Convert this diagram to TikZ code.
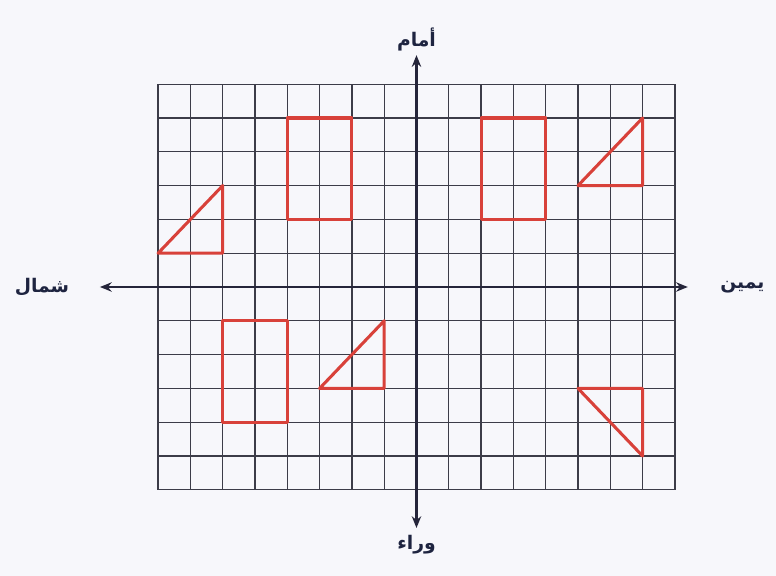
\documentclass[tikz,border=0pt]{standalone}
\usepackage{fontspec}
\newfontfamily\arabicfont[Script=Arabic]{DejaVu Sans}
\TeXXeTstate=1
\usepackage{tikz}
\usetikzlibrary{positioning,arrows.meta}
\definecolor{cpaper}{HTML}{F7F7FB}
\definecolor{cgrid}{HTML}{3C3C48}
\definecolor{caxis}{HTML}{25253A}
\definecolor{cfig}{HTML}{D8413A}
\definecolor{clabel}{HTML}{1E2440}

\begin{document}
\begin{tikzpicture}[>={Stealth[length=10pt,width=8pt]}, x=0.969cm, y=1.014cm,
  fig/.style={cfig, line width=2.6pt, line join=round},
  dirlabel/.style={clabel, font=\arabicfont\bfseries\fontsize{16}{18}\selectfont}]
  \useasboundingbox[fill=cpaper] (-12.495cm,-8.67cm) rectangle (10.785cm,8.61cm);
  \draw[cgrid, line width=1.1pt, step=1] (-8,-6) grid (8,6);
  % axes
  \coordinate (front) at (0,6.86);
  \coordinate (back) at (0,-7.13);
  \coordinate (left) at (-9.8,0);
  \coordinate (right) at (8.4,0);
  \draw[<->, caxis, line width=2pt] (back) -- (front);
  \draw[<->, caxis, line width=2pt] (left) -- (right);
  \node[dirlabel, above=0cm of front] (amam) {\beginR أمام\endR};
  \node[dirlabel, below=0.1cm of back] (waraa) {\beginR وراء\endR};
  \node[dirlabel, left=0.8cm of left] (shamal) {\beginR شمال\endR};
  \node[dirlabel, right=0.85cm of right] (yamin) {\beginR يمين\endR};
  % figures
  \draw[fig] (-8,1) -- (-6,1) -- (-6,3) -- cycle;
  \draw[fig] (-4,2) rectangle (-2,5);
  \draw[fig] (2,2) rectangle (4,5);
  \draw[fig] (5,3) -- (7,3) -- (7,5) -- cycle;
  \draw[fig] (-6,-4) rectangle (-4,-1);
  \draw[fig] (-3,-3) -- (-1,-3) -- (-1,-1) -- cycle;
  \draw[fig] (5,-3) -- (7,-3) -- (7,-5) -- cycle;
\end{tikzpicture}
\end{document}
